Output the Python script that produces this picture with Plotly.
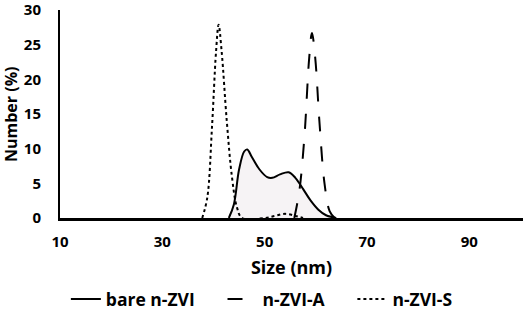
import plotly.graph_objects as go

# bare n-ZVI (solid)
bare_x = [43, 44, 45, 46, 46.6, 47.5, 49, 50.5, 51.5, 53, 54.7, 56, 57.5, 59, 60.5, 62, 64]
bare_y = [0, 2, 7, 9.6, 9.9, 8.8, 7, 5.9, 5.8, 6.3, 6.6, 5.8, 4.2, 2.5, 1.2, 0.4, 0]

# n-ZVI-A (dashed)
a_x = [55.8, 56.8, 57.8, 58.7, 59.25, 59.9, 60.7, 61.7, 62.7, 63.7]
a_y = [0, 4, 12, 23, 26.7, 23, 14, 5, 1, 0]

# n-ZVI-S (dotted)
s_x = [37.8, 38.8, 39.7, 40.5, 41.0, 41.6, 42.6, 43.6, 44.6, 45.6, 50, 52, 54, 56, 57.5]
s_y = [0, 3, 13, 24, 27.9, 24, 14, 6, 1.5, 0, 0, 0.3, 0.6, 0.3, 0]

x_ticks = [10, 30, 50, 70, 90]
y_ticks = [0, 5, 10, 15, 20, 25, 30]

series_names = ["bare n-ZVI", "n-ZVI-A", "n-ZVI-S"]

FONT = "Open Sans"
PAD = "\u00a0" * 5

fig = go.Figure()
fig.add_trace(go.Scatter(x=bare_x, y=bare_y, mode="lines", line=dict(width=0, shape="spline"),
                         fill="tozeroy", fillcolor="#f6f3f5", showlegend=False, hoverinfo="skip"))
fig.add_trace(go.Scatter(x=bare_x, y=bare_y, mode="lines", name=series_names[0] + PAD,
                         line=dict(color="black", width=2, shape="spline")))
fig.add_trace(go.Scatter(x=a_x, y=a_y, mode="lines", name=series_names[1] + PAD,
                         line=dict(color="black", width=2, dash="longdash", shape="spline")))
fig.add_trace(go.Scatter(x=s_x, y=s_y, mode="lines", name=series_names[2],
                         line=dict(color="black", width=2, dash="dot", shape="spline")))

fig.update_layout(
    width=526, height=325,
    margin=dict(l=60, r=3, t=10, b=107),
    paper_bgcolor="white", plot_bgcolor="white",
    font=dict(family=FONT, size=14, color="black"),
    legend=dict(orientation="h", x=0.436, xanchor="center", y=-0.39, yanchor="middle",
                font=dict(family=FONT, size=17.5, color="black", weight="bold"),
                itemwidth=30, tracegroupgap=0),
    annotations=[dict(text="Number (%)", xref="paper", yref="paper", x=-0.1058, y=0.5,
                      xanchor="center", yanchor="middle", textangle=-90, showarrow=False,
                      font=dict(family=FONT, size=16, weight="bold", color="black"))],
)
fig.update_xaxes(range=[10, 100.5], tickvals=x_ticks, showgrid=False, zeroline=False,
                 showline=True, linecolor="black", linewidth=2.5, automargin=False,
                 ticks="", ticklabelstandoff=8, ticklabeloverflow="allow",
                 tickfont=dict(family=FONT, size=15, weight="bold"),
                 title=dict(text="Size (nm)", font=dict(family=FONT, size=18, weight="bold"), standoff=12))
fig.update_yaxes(range=[0, 30.02], tickvals=y_ticks, showgrid=False, zeroline=False,
                 showline=True, linecolor="black", linewidth=2, automargin=False,
                 ticks="", ticklabelstandoff=14, ticklabeloverflow="allow",
                 tickfont=dict(family=FONT, size=15, weight="bold"))

fig.write_html("out.html", config={"displayModeBar": False},
               post_script="document.body.style.margin='0';")
